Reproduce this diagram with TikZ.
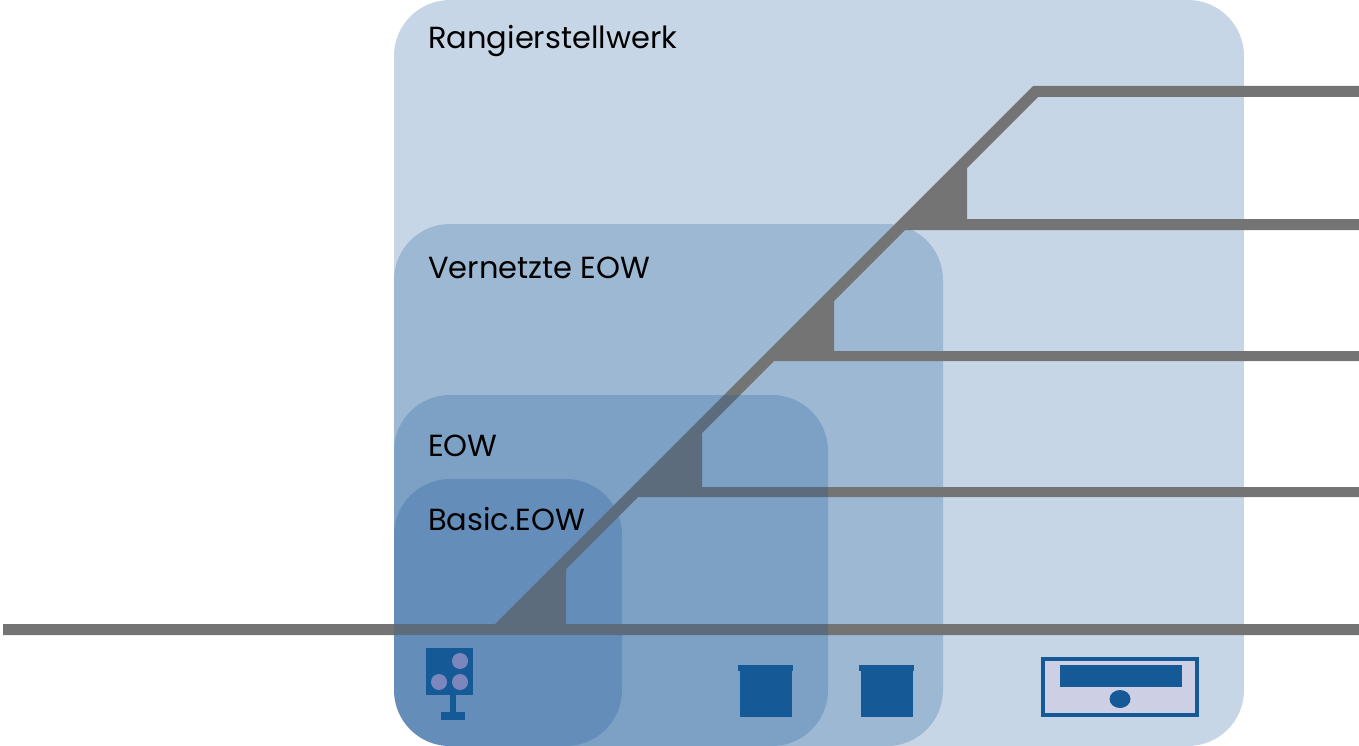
\documentclass[tikz,border=0pt]{standalone}
\usepackage{fontspec}
\setmainfont{Poppins}
\usepackage{tikz}
\usetikzlibrary{positioning}
\definecolor{eowblue}{HTML}{155A96}
\definecolor{regionblue}{HTML}{155596}
\definecolor{trackgrey}{HTML}{747474}
\definecolor{lampviolet}{HTML}{7B87BC}
\definecolor{panelviolet}{HTML}{CDCFE5}

\begin{document}
\begin{tikzpicture}[
  x=1pt, y=-1pt,
  region/.style={anchor=north west, fill=regionblue, fill opacity=0.24, rounded corners=56pt, inner sep=0pt, outer sep=0pt},
  lab/.style={anchor=base west, inner sep=0pt, font=\fontsize{30.5}{36}\selectfont, text=black},
  track/.style={fill=trackgrey},
  icon/.style={fill=eowblue},
  lamp/.style={circle, fill=lampviolet, minimum size=16pt, inner sep=0pt}
]
\useasboundingbox (0,0) rectangle (1359,746);
\node[region, minimum width=850pt, minimum height=746pt] (rangier) at (394,0) {};
\node[region, minimum width=549pt, minimum height=522pt] (vernetzt) at (394,224) {};
\node[region, minimum width=228pt, minimum height=267pt] (basic) at (394,479) {};
% tracks
\fill[track] (3,624) -- (495,624) -- (1033,86) -- (1359,86) -- (1359,97) -- (1038,97)
  -- (967,168) -- (967,219) -- (1359,219) -- (1359,230) -- (905,230)
  -- (834,301) -- (834,351) -- (1359,351) -- (1359,361) -- (774,361)
  -- (702,433) -- (702,487) -- (1359,487) -- (1359,497) -- (638,497)
  -- (566,569) -- (566,624) -- (1359,624) -- (1359,635) -- (3,635) -- cycle;
\node[region, minimum width=434pt, minimum height=351pt] (eow) at (394,395) {};
% signal
\fill[icon] (426,648) rectangle (473,695);
\fill[icon] (450.3,695) rectangle (456.3,712);
\fill[icon] (440.5,711.5) rectangle (465,720);
\node[lamp] (lampa) at (460,661) {};
\node[lamp] (lampb) at (439,682) {};
\node[lamp] (lampc) at (460,682) {};
% point machines
\fill[icon] (738,665) rectangle (793,671);
\fill[icon] (740,671) rectangle (792,717);
\fill[icon] (859,665) rectangle (914,671);
\fill[icon] (861,671) rectangle (913,717);
% panel
\draw[icon, draw=eowblue, fill=panelviolet, line width=3.5pt] (1043,659) rectangle (1197,715);
\fill[icon] (1060,665) rectangle (1182,687);
\fill[icon] (1120,699) ellipse [x radius=10.5, y radius=9];
\node[lab] (ranglab) at (428,49) {Rangierstellwerk};
\node[lab] (vernlab) at (428,278) {Vernetzte EOW};
\node[lab] (eowlab) at (428,456) {EOW};
\node[lab] (basiclab) at (428,530) {Basic.EOW};
\end{tikzpicture}
\end{document}
